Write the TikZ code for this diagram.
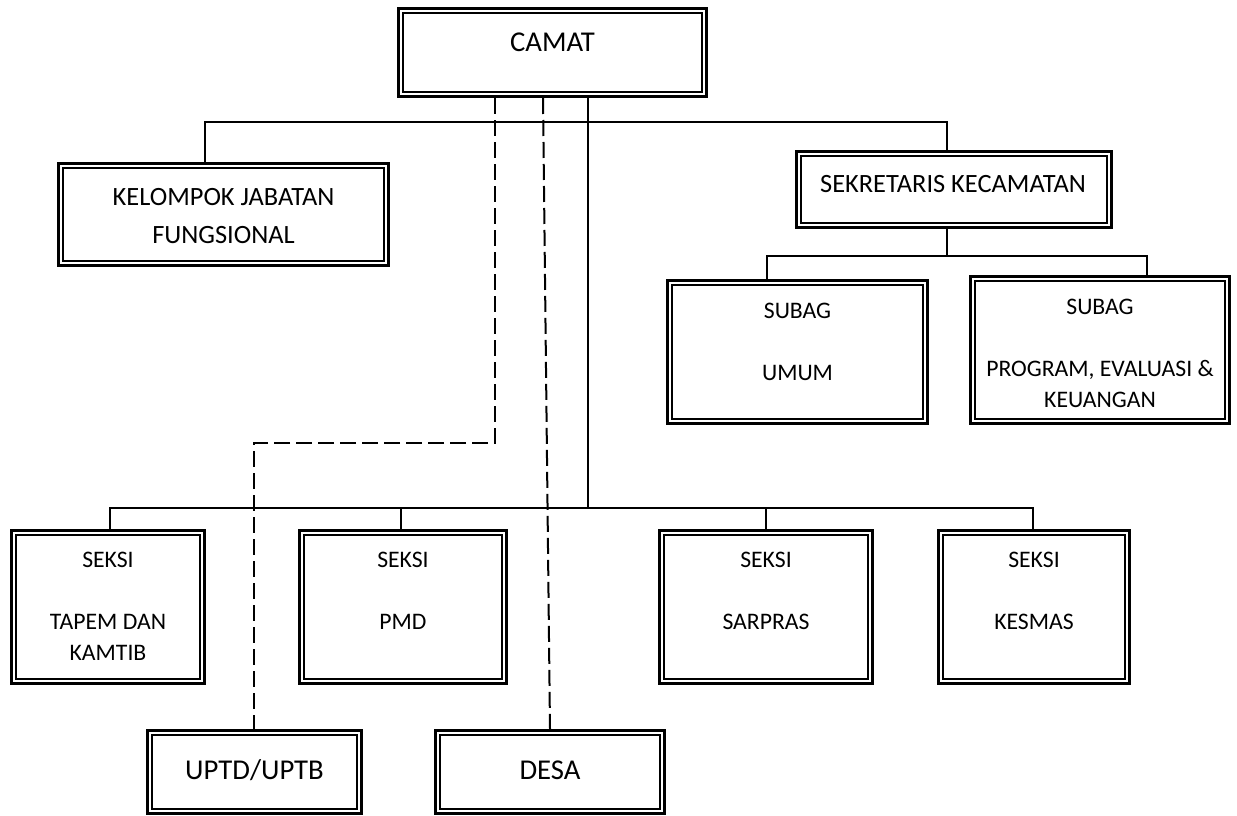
\documentclass[tikz,border=0pt]{standalone}
\usepackage{fontspec}
\setmainfont{Carlito}
\begin{document}
\begin{tikzpicture}[x=1pt,y=-1pt,
  box/.style={rectangle, draw=black, line width=3pt, fill=white, outer sep=1.5pt, inner sep=0pt},
  innerline/.style={draw=black, line width=2pt},
  conn/.style={draw=black, line width=1.4pt},
  dline/.style={draw=black, line width=2pt, dash pattern=on 16pt off 6pt},
  big/.style={font=\fontsize{28.7}{34}\selectfont, inner sep=0pt},
  mid/.style={font=\fontsize{26.4}{38}\selectfont, align=center, inner sep=0pt},
  sml/.style={font=\fontsize{23.7}{31}\selectfont, align=center, inner sep=0pt}]
\newcommand\obox[5]{\node[box, minimum width={(#4-#2-3)*1pt}, minimum height={(#5-#3-3)*1pt}] (#1) at ({(#2+#4)/2},{(#3+#5)/2}) {};
  \draw[innerline] ([shift={(6.3pt,-6.3pt)}]#1.north west) rectangle ([shift={(-6.3pt,6.3pt)}]#1.south east);}
\path[use as bounding box, fill=white] (0,0) rectangle (1237,816);
% boxes
\obox{camat}{397}{7}{708}{98}
\obox{kelompok}{57}{162}{390}{267}
\obox{sekre}{795}{150}{1113}{229}
\obox{umum}{666}{279}{929}{425}
\obox{prog}{969}{275}{1231}{425}
\obox{tapem}{10}{529}{206}{685}
\obox{pmd}{298}{529}{508}{685}
\obox{sarpras}{658}{529}{874}{685}
\obox{kesmas}{937}{529}{1131}{685}
\obox{uptd}{146}{729}{363}{815}
\obox{desa}{434}{729}{666}{815}
% texts
\node[big] (camat-t) at (552.5,42) {CAMAT};
\node[mid] (kel-t) at (223.5,216) {KELOMPOK JABATAN\\FUNGSIONAL};
\node[mid] (sek-t) at (953,184) {SEKRETARIS KECAMATAN};
\node[sml] (umum-t) at (797.5,342) {SUBAG\\[31pt]UMUM};
\node[sml] (prog-t) at (1100,353.5) {SUBAG\\[31pt]PROGRAM, EVALUASI \&\\KEUANGAN};
\node[sml] (tapem-t) at (108,606.5) {SEKSI\\[31pt]TAPEM DAN\\KAMTIB};
\node[sml] (pmd-t) at (403,591) {SEKSI\\[31pt]PMD};
\node[sml] (sarpras-t) at (766,591) {SEKSI\\[31pt]SARPRAS};
\node[sml] (kesmas-t) at (1034,591) {SEKSI\\[31pt]KESMAS};
\node[big] (uptd-t) at (254.5,770) {UPTD/UPTB};
\node[big] (desa-t) at (550,770) {DESA};
% helper coordinates
\coordinate (xmain) at (588,508);
\coordinate (xd1) at (495,443);
\coordinate (xd2) at (254,443);
\coordinate (xd3) at (543,0);
\coordinate (ybusT) at (0,122);
\coordinate (ybusS) at (0,256);
\coordinate (ybusB) at (0,508);
\coordinate (kx) at (205,0);
\coordinate (sx) at (947,0);
\coordinate (ux) at (767,0);
\coordinate (px) at (1147,0);
\coordinate (tx) at (110,0);
\coordinate (mx) at (401,0);
\coordinate (rx) at (766,0);
\coordinate (ex) at (1033,0);
% connectors
\draw[conn] (camat.south -| xmain) -- (xmain);
\draw[conn] (kx |- kelompok.north) -- (kx |- ybusT) -- (sx |- ybusT) -- (sx |- sekre.north);
\draw[conn] (sx |- sekre.south) -- (sx |- ybusS);
\draw[conn] (ux |- umum.north) -- (ux |- ybusS) -- (px |- ybusS) -- (px |- prog.north);
\draw[conn] (tx |- tapem.north) -- (tx |- ybusB) -- (ex |- ybusB) -- (ex |- kesmas.north);
\draw[conn] (mx |- ybusB) -- (mx |- pmd.north);
\draw[conn] (rx |- ybusB) -- (rx |- sarpras.north);
\draw[dline] (xd1 |- camat.south) -- (xd1) -- (xd2) -- (xd2 |- uptd.north);
\draw[dline] (xd3 |- camat.south) -- (desa.north);
\end{tikzpicture}
\end{document}
